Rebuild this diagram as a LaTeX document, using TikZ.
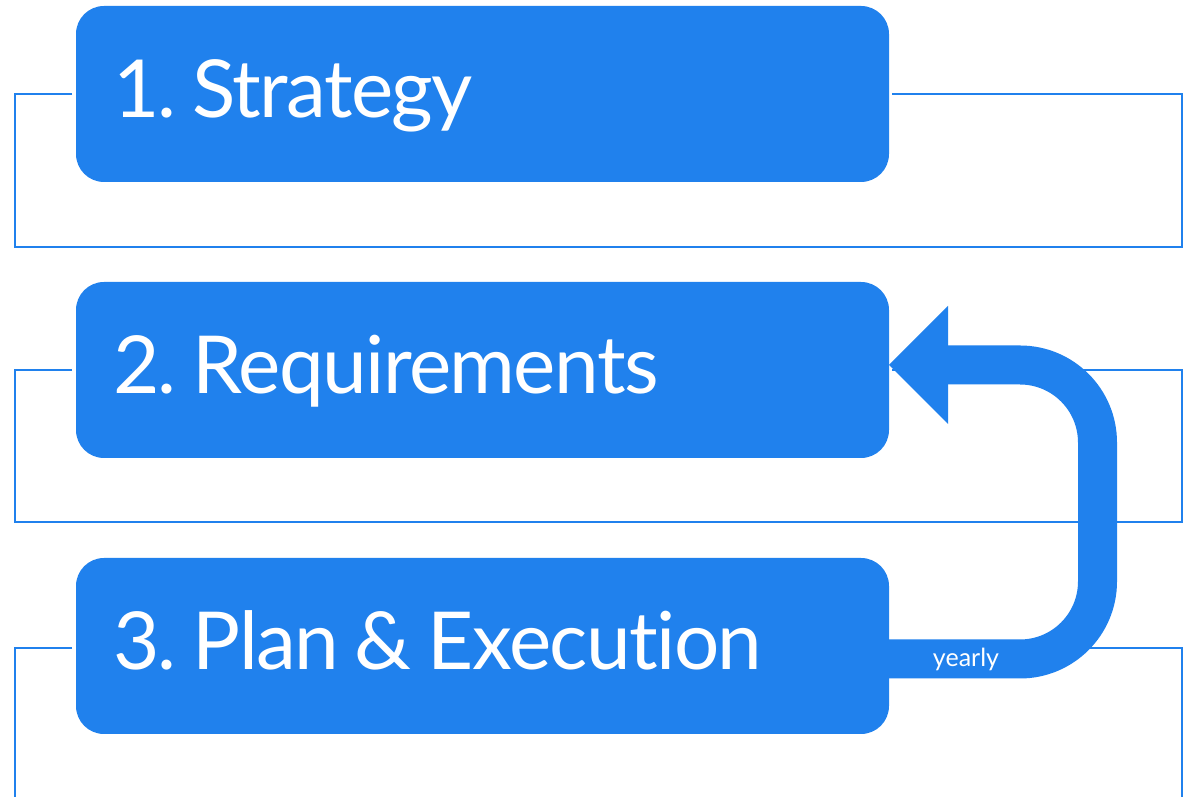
\documentclass[tikz,border=0pt]{standalone}
\usepackage{fontspec}
\setmainfont[Ligatures={NoCommon}]{Lato}
\newfontfamily\stagefont[Ligatures={NoCommon},LetterSpace=-2]{Lato}
\newcommand\stagesetup{\stagefont\fontsize{80}{90}\selectfont}
\newcommand\tightspace{\spaceskip=16pt\xspaceskip=16pt\relax}
\usetikzlibrary{arrows.meta}
\definecolor{brand}{HTML}{2081ED}
\frenchspacing
\begin{document}
\begin{tikzpicture}[x=1pt,y=1pt,
  stage/.style={rectangle, rounded corners=28pt, fill=brand, outer sep=0pt,
    minimum width=813pt, minimum height=176pt, text width=739pt, inner xsep=37pt, inner ysep=0pt,
    align=left, text=white, font=\stagesetup, execute at begin node=\tightspace,
    text height=58pt, text depth=10pt},
  frame/.style={draw=brand, line width=2.4pt},
  band/.style={draw=brand, line width=39pt, rounded corners=77.5pt,
    -{Triangle[length=59pt,width=118pt,line width=0pt]}},
  small/.style={text=white, font=\fontsize{25}{25}\selectfont, anchor=base, inner sep=0pt}]
\fill[white] (0,0) rectangle (1187,797);
\useasboundingbox (0,0) rectangle (1187,797);
% frames
\draw[frame] (72,703) -- (15,703) |- (1182,550) |- (892,703);
\draw[frame] (72,427) -- (15,427) |- (1182,275) |- (892,427);
\draw[frame] (72,149) -- (15,149) -- (15,-2);
\draw[frame] (892,149) -- (1182,149) -- (1182,-2);
% stages
\node[stage] (b1) at (482.5,703) {1. Strategy};
\node[stage] (b2) at (482.5,427) {2. Requirements};
\node[stage] (b3) at (482.5,151) {3. Plan \& Execution};
% loop
\draw[band] ([yshift=-13pt]b3.east) -- ++(208.5,0) |- ([yshift=5pt]b2.east);
\node[small] (yearly) at (966,130) {yearly};
\end{tikzpicture}
\end{document}
